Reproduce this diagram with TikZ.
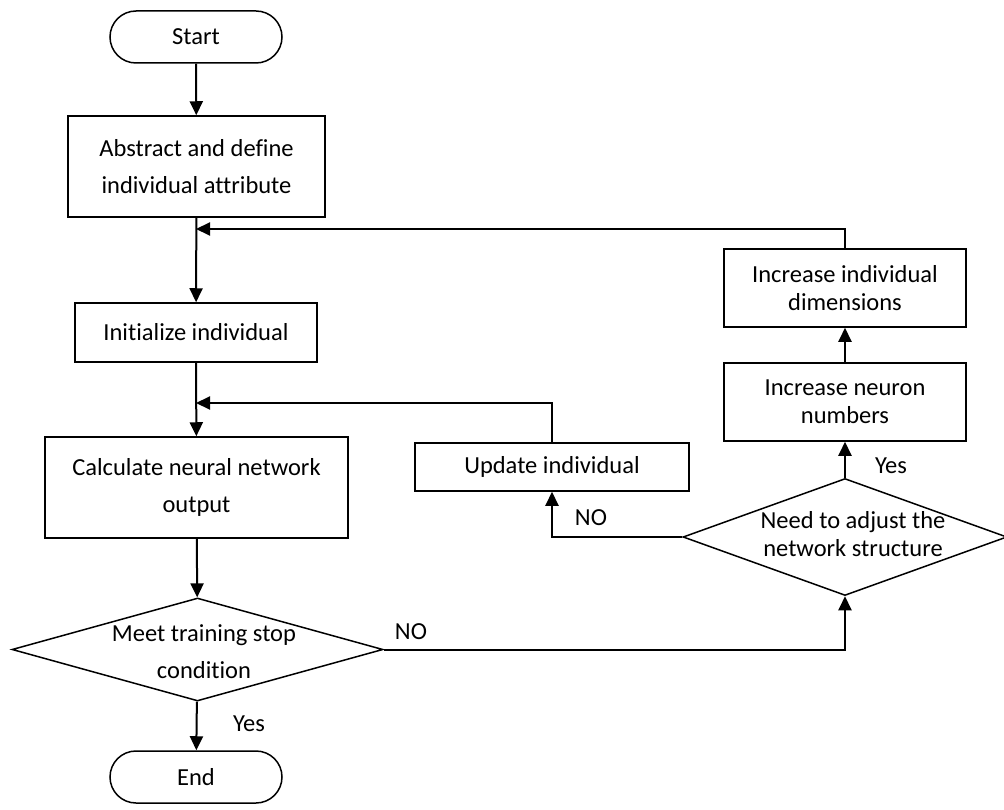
\documentclass[tikz,border=0pt]{standalone}
\usepackage{fontspec}
\setmainfont{Carlito}[Ligatures=NoCommon]
\usetikzlibrary{arrows.meta}
\usetikzlibrary{shapes.geometric}

\begin{document}
\begin{tikzpicture}[x=1pt,y=-1pt,
    box/.style={draw,line width=1.5pt,inner sep=0pt,align=center,
        font=\fontsize{24.5}{37}\selectfont},
    tbox/.style={box,font=\fontsize{24.5}{28}\selectfont},
    term/.style={box,rounded corners=26pt,minimum width=172pt,minimum height=52pt},
    decision/.style={draw,diamond,line width=1.5pt,inner sep=0pt},
    txt/.style={align=center,inner sep=0pt},
    lbl/.style={inner sep=0pt,font=\fontsize{24.5}{28}\selectfont},
    arr/.style={line width=2pt,-{Triangle[length=14pt,width=13pt]}}]
                    \useasboundingbox (0,0) rectangle (1004,810);
                    % left column
                    \node[term] (start) at (196,37) {Start};
                    \node[box,minimum width=257pt,minimum height=101pt] (abs) at (196.5,166.5)
                        {Abstract and define\\individual attribute};
                    \node[box,minimum width=242pt,minimum height=59pt] (init) at (196,332.5)
                        {Initialize individual};
                    \node[box,minimum width=303pt,minimum height=101pt] (calc) at (196.5,487.5)
                        {Calculate neural network\\output};
                    \node[decision,minimum width=371pt,minimum height=103pt] (meet) at (197.5,649.5) {};
                    \node[txt,font=\fontsize{24.5}{37}\selectfont] (meettxt) at (204,652)
                        {Meet training stop\\condition};
                    \node[term] (end) at (196,777) {End};
                    % right side
                    \node[box,minimum width=274pt,minimum height=48pt] (upd) at (552,467)
                        {Update individual};
                    \node[decision,minimum width=324pt,minimum height=117pt] (need) at (845,537) {};
                    \node[txt,font=\fontsize{24.5}{28}\selectfont] (needtxt) at (853,534)
                        {Need to adjust the\\network structure};
                    \node[tbox,minimum width=242pt,minimum height=78pt] (neur) at (845,402)
                        {Increase neuron\\numbers};
                    \node[tbox,minimum width=242pt,minimum height=78pt] (dim) at (845,288)
                        {Increase individual\\dimensions};
                    \coordinate (j1) at (196,229);
                    \coordinate (j2) at (196,403);
                    % connectors
                    \draw[arr] (start) -- (abs);
                    \draw[arr] (abs) -- (init);
                    \draw[arr] (init) -- (calc);
                    \draw[arr] (calc) -- (meet);
                    \draw[arr] (meet) -- (end);
                    \draw[arr] (meet.east) -| (need.south);
                    \draw[arr] (need.west) -| (upd.south);
                    \draw[arr] (upd.north) |- (j2);
                    \draw[arr] (need) -- (neur);
                    \draw[arr] (neur) -- (dim);
                    \draw[arr] (dim.north) |- (j1);
                    % labels
                    \node[lbl] (yes1) at (249,724) {Yes};
                    \node[lbl] (no1) at (411,632) {NO};
                    \node[lbl] (no2) at (591,518) {NO};
                    \node[lbl] (yes2) at (891,466) {Yes};
                \end{tikzpicture}
\end{document}
